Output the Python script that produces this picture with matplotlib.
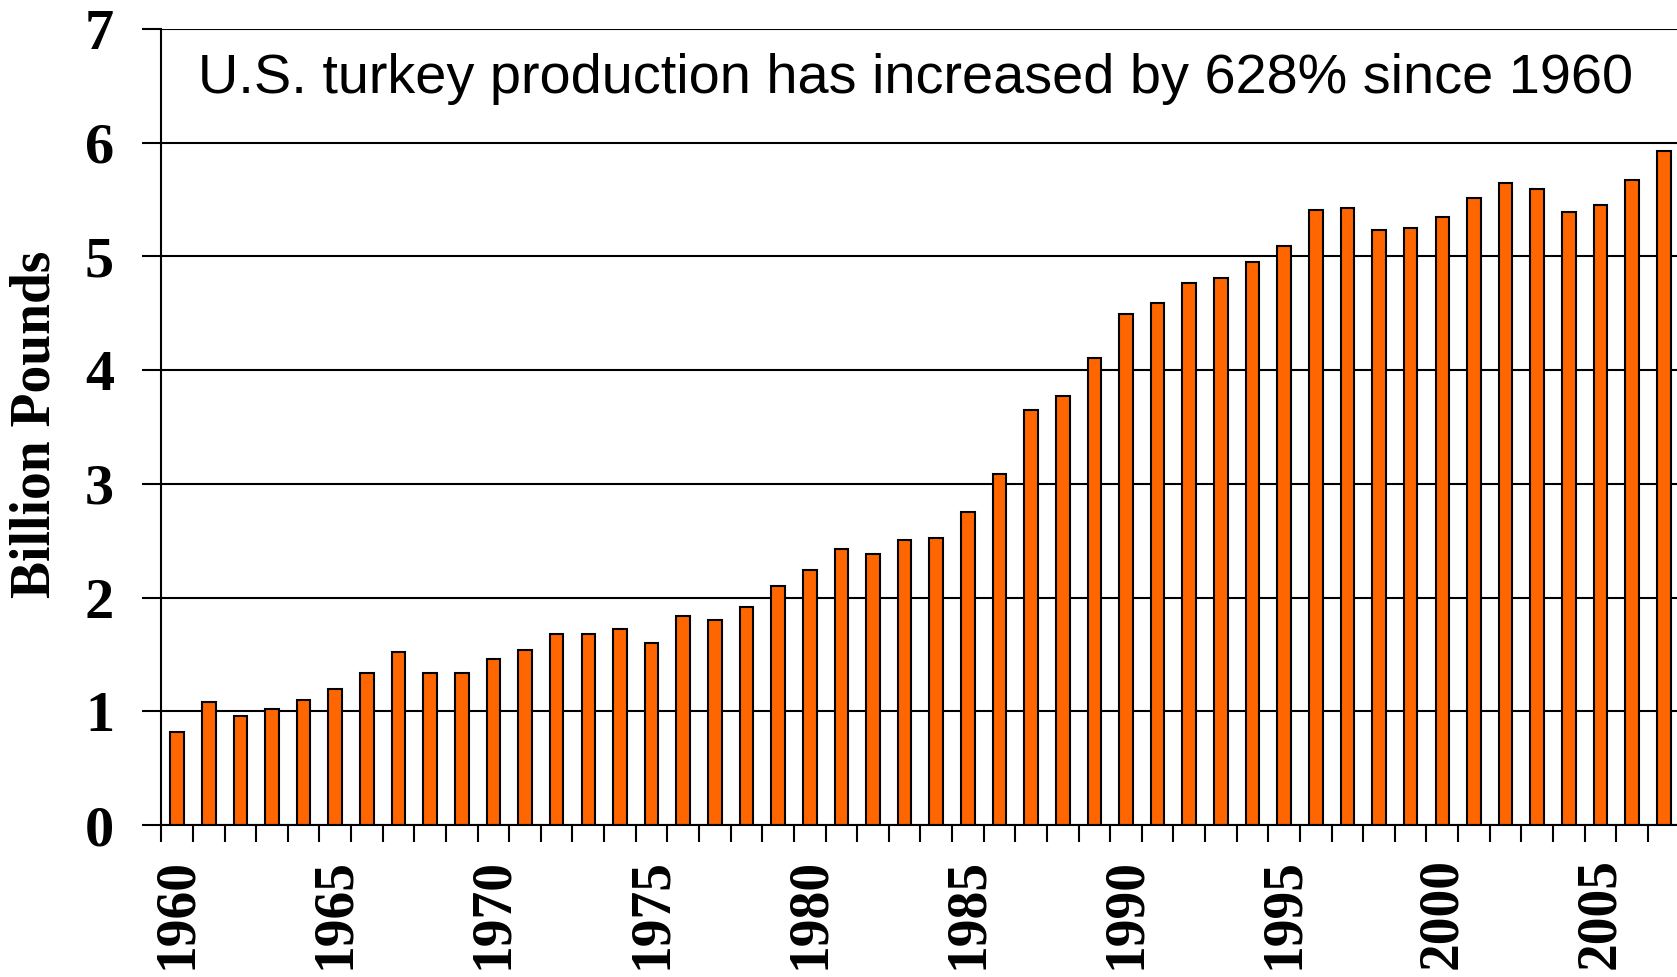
import numpy as np
import matplotlib
matplotlib.use('Agg')
import matplotlib.pyplot as plt
from matplotlib.ticker import FixedLocator

years = list(range(1960, 2008))
production = [0.82, 1.08, 0.96, 1.02, 1.10, 1.20, 1.34, 1.52, 1.34, 1.34,
              1.46, 1.54, 1.68, 1.68, 1.72, 1.60, 1.84, 1.80, 1.92, 2.10,
              2.24, 2.43, 2.38, 2.51, 2.52, 2.75, 3.09, 3.65, 3.77, 4.11,
              4.49, 4.59, 4.77, 4.81, 4.95, 5.09, 5.41, 5.43, 5.23, 5.25,
              5.35, 5.51, 5.65, 5.59, 5.39, 5.45, 5.67, 5.93]
tick_years = [1960, 1965, 1970, 1975, 1980, 1985, 1990, 1995, 2000, 2005]
title_text = 'U.S. turkey production has increased by 628% since 1960'

W, H = 1677, 977
fig = plt.figure(figsize=(W / 100, H / 100), dpi=100)
left, right, top, bottom = 161.3, 1677, 29, 825
ax = fig.add_axes([left / W, 1 - bottom / H, (right - left) / W, (bottom - top) / H])

x = np.arange(len(years))
ax.bar(x, production, width=0.43, color='#FF6600', edgecolor='black', linewidth=1.5, zorder=3)

ax.set_xlim(-0.5, -0.5 + (right - left) / 31.63)
ax.set_ylim(0, 7)

serif = dict(family=['Liberation Serif', 'DejaVu Serif'], weight='bold')

ax.set_yticks(range(0, 8))
ax.set_yticklabels([str(v) for v in range(0, 8)], fontdict=dict(size=42, **serif))
ax.tick_params(axis='y', direction='out', length=14, width=1.5, pad=20)
ax.grid(axis='y', color='black', linewidth=1.5, zorder=1)

tick_pos = [years.index(y) for y in tick_years]
ax.set_xticks(tick_pos)
ax.set_xticklabels([str(y) for y in tick_years], rotation=90, fontdict=dict(size=40, **serif))
ax.xaxis.set_minor_locator(FixedLocator(np.arange(-0.5, len(years) + 0.5, 1)))
ax.tick_params(axis='x', which='major', length=0, pad=24)
ax.tick_params(axis='x', which='minor', direction='out', length=12.5, width=1.5)

for s in ['top', 'right']:
    ax.spines[s].set_visible(False)
for s in ['left', 'bottom']:
    ax.spines[s].set_linewidth(1.5)
    ax.spines[s].set_zorder(4)

ax.text((198 - left) / (right - left), (bottom - 93.3) / (bottom - top), title_text,
        transform=ax.transAxes, ha='left', va='baseline', fontsize=40.2,
        family=['Liberation Sans', 'DejaVu Sans'])

fig.text(36 / W, 1 - 424 / H, 'Billion Pounds', rotation=90, ha='center', va='center',
         fontsize=40, **serif)

fig.savefig('out.png', dpi=100)
